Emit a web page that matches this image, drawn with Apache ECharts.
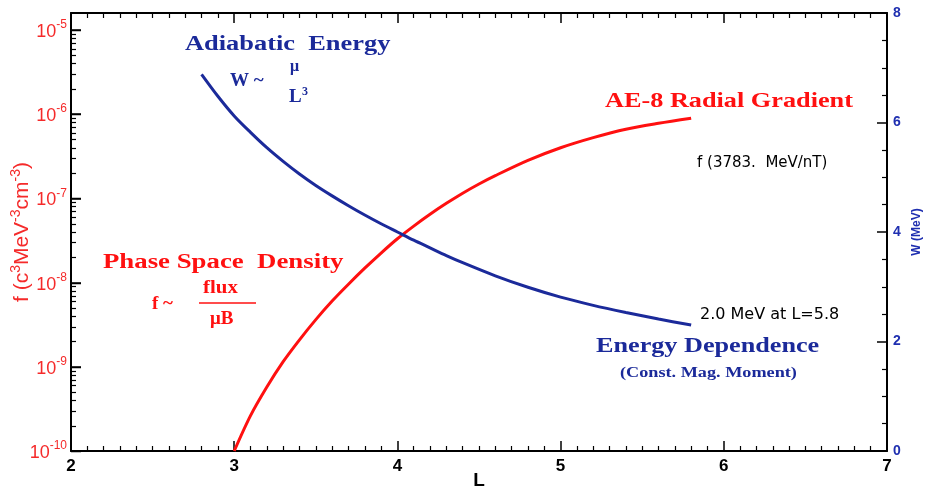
<!DOCTYPE html>
<html><head><meta charset="utf-8">
<script src="https://cdn.jsdelivr.net/npm/echarts@6/dist/echarts.min.js"></script>
<style>html,body{margin:0;padding:0;background:#fff}#c{width:927px;height:488px}</style>
</head><body><div id="c"></div>
<script>
// ---- data ----
const redL = [3.0, 3.1, 3.2, 3.3, 3.4, 3.5, 3.6, 3.7, 3.8, 3.9, 4.0, 4.1, 4.2, 4.3, 4.4, 4.5, 4.6, 4.8, 5.0, 5.2, 5.4, 5.6, 5.8];
const redF = [1.0e-10, 2.63e-10, 5.75e-10, 1.15e-9, 2.09e-9, 3.63e-9, 6.03e-9, 9.55e-9, 1.48e-8, 2.24e-8, 3.31e-8, 4.68e-8, 6.46e-8, 8.71e-8, 1.15e-7, 1.48e-7, 1.86e-7, 2.82e-7, 3.98e-7, 5.25e-7, 6.61e-7, 7.76e-7, 8.91e-7];
const blueL = [2.8, 2.9, 3.0, 3.1, 3.2, 3.3, 3.4, 3.5, 3.6, 3.7, 3.8, 3.9, 4.0, 4.1, 4.2, 4.3, 4.4, 4.6, 4.8, 5.0, 5.2, 5.4, 5.6, 5.8];
const blueW = [6.88, 6.48, 6.12, 5.82, 5.54, 5.29, 5.06, 4.85, 4.66, 4.48, 4.31, 4.15, 4.00, 3.85, 3.71, 3.57, 3.44, 3.20, 2.99, 2.81, 2.66, 2.53, 2.41, 2.30];
const xTicks = [2, 3, 4, 5, 6, 7];
const fDecadeExp = [-10, -9, -8, -7, -6, -5];
const wTicks = [0, 2, 4, 6, 8];

const RED = '#ff1010', LRED = '#f52a2a', BLUE = '#1b2a9a', LBLUE = '#1f2fb0';
const F_MIN = 1e-10, F_MAX = Math.pow(10, -4.8);
const fMinor = [];
for (let d = -10; d <= -5; d++) for (let k = 2; k <= 9; k++) { const v = k * Math.pow(10, d); if (v < F_MAX) fMinor.push(v); }

const chart = echarts.init(document.getElementById('c'));
const serif = '"Liberation Serif","DejaVu Serif",serif';
const sans = '"Liberation Sans","DejaVu Sans",sans-serif';
function txt(x, y, s, size, color, sx) {
  return { type: 'text', x: x, y: y, scaleX: sx || 1, style: { text: s, font: 'bold ' + size + 'px ' + serif, fill: color } };
}
chart.setOption({
  animation: false,
  grid: { left: 71, right: 40, top: 13, bottom: 37, containLabel: false, outerBoundsMode: 'none' },
  xAxis: [
    { type: 'value', position: 'bottom', min: 2, max: 7, interval: 1,
      axisLine: { lineStyle: { color: '#000', width: 2 } },
      axisTick: { show: true, inside: true, length: 10, lineStyle: { color: '#000', width: 1.5 } },
      minorTick: { show: true, splitNumber: 10, length: 5, lineStyle: { color: '#000', width: 1.2 } },
      splitLine: { show: false },
      axisLabel: { color: '#000', fontWeight: 'bold', fontSize: 17, fontFamily: sans, margin: 7 },
      name: 'L', nameLocation: 'middle', nameGap: 20, nameMoveOverlap: false,
      nameTextStyle: { color: '#000', fontWeight: 'bold', fontSize: 19, fontFamily: sans } },
    { type: 'value', position: 'top', min: 2, max: 7, interval: 1,
      axisLine: { lineStyle: { color: '#000', width: 2 } },
      axisTick: { show: true, inside: true, length: 10, lineStyle: { color: '#000', width: 1.5 } },
      minorTick: { show: true, splitNumber: 10, length: 5, lineStyle: { color: '#000', width: 1.2 } },
      splitLine: { show: false }, axisLabel: { show: false } }
  ],
  yAxis: [
    { type: 'log', position: 'left', min: F_MIN, max: F_MAX, logBase: 10,
      axisLine: { show: true, lineStyle: { color: '#000', width: 2 } },
      axisTick: { show: true, inside: true, length: 10, lineStyle: { color: '#000', width: 1.5 } },
      splitLine: { show: false },
      axisLabel: { margin: 4, showMaxLabel: false,
        formatter: v => { const e = Math.round(Math.log10(v)); return Math.abs(Math.log10(v) - e) < 1e-6 ? '{b|10}{s|' + e + '}' : ''; },
        rich: { b: { fontSize: 18, color: LRED, fontFamily: sans, lineHeight: 22, verticalAlign: 'bottom' },
                s: { fontSize: 12, color: LRED, fontFamily: sans, lineHeight: 22, verticalAlign: 'top' } } },
      name: '{m|f (c}{s|3}{m|MeV}{s|-3}{m|cm}{s|-3}{m|)}', nameLocation: 'middle', nameGap: 38, nameRotate: 90, nameMoveOverlap: false,
      nameTextStyle: { rich: { m: { fontSize: 21, color: LRED, fontFamily: sans, lineHeight: 24, verticalAlign: 'bottom' },
                               s: { fontSize: 14, color: LRED, fontFamily: sans, lineHeight: 24, verticalAlign: 'top' } } } },
    { type: 'value', position: 'right', min: 0, max: 8, interval: 2,
      axisLine: { show: true, lineStyle: { color: '#000', width: 2 } },
      axisTick: { show: true, inside: true, length: 10, lineStyle: { color: '#000', width: 1.5 } },
      minorTick: { show: true, splitNumber: 4, length: 5, lineStyle: { color: '#000', width: 1.2 } },
      splitLine: { show: false },
      axisLabel: { color: LBLUE, fontWeight: 'bold', fontSize: 14, fontFamily: sans, margin: 6 },
      name: 'W (MeV)', nameLocation: 'middle', nameGap: 24, nameRotate: 90, nameMoveOverlap: false,
      nameTextStyle: { color: LBLUE, fontWeight: 'bold', fontSize: 12, fontFamily: sans } }
  ],
  series: [
    { type: 'line', name: 'AE-8 Radial Gradient', xAxisIndex: 0, yAxisIndex: 0, smooth: 0.3, showSymbol: false,
      lineStyle: { color: RED, width: 3 }, data: redL.map((l, i) => [l, redF[i]]) },
    { type: 'line', name: 'Energy Dependence', xAxisIndex: 0, yAxisIndex: 1, smooth: 0.3, showSymbol: false,
      lineStyle: { color: BLUE, width: 3 }, data: blueL.map((l, i) => [l, blueW[i]]) }
  ]
});

// left log-axis ticks placed through the axis scale (convertToPixel)
const x0 = chart.convertToPixel({ xAxisIndex: 0 }, 2);
const tickEls = [];
fDecadeExp.forEach(e => {
  const y = Math.round(chart.convertToPixel({ yAxisIndex: 0 }, Math.pow(10, e))) + 0.5;
  tickEls.push({ type: 'line', z: 100, silent: true, shape: { x1: x0, y1: y, x2: x0 + 10, y2: y }, style: { stroke: '#000', lineWidth: 1.5 } });
});
fMinor.forEach(v => {
  const y = Math.round(chart.convertToPixel({ yAxisIndex: 0 }, v)) + 0.5;
  tickEls.push({ type: 'line', z: 100, silent: true, shape: { x1: x0, y1: y, x2: x0 + 5, y2: y }, style: { stroke: '#000', lineWidth: 1.2 } });
});

chart.setOption({
  graphic: [
    txt(185, 35, 'Adiabatic  Energy', 20, BLUE, 1.32),
    txt(230, 72, 'W ~', 19, BLUE),
    txt(290, 59, 'μ', 16, BLUE),
    txt(289, 88, 'L', 19, BLUE),
    txt(302, 86, '3', 12, BLUE),
    txt(103, 253, 'Phase Space  Density', 20, RED, 1.34),
    txt(152, 295, 'f ~', 19, RED),
    txt(203, 279, 'flux', 19, RED, 1.1),
    { type: 'line', shape: { x1: 199, y1: 303, x2: 256, y2: 303 }, style: { stroke: RED, lineWidth: 1.5 } },
    txt(210, 310, 'μB', 19, RED),
    txt(605, 91, 'AE-8 Radial Gradient', 21, RED, 1.25),
    { type: 'text', x: 697, y: 156, style: { text: 'f (3783.  MeV/nT)', font: '15px "DejaVu Sans",sans-serif', fill: '#000' } },
    { type: 'text', x: 700, y: 307, style: { text: '2.0 MeV at L=5.8', font: '16px "DejaVu Sans",sans-serif', fill: '#000' } },
    txt(596, 335, 'Energy Dependence', 22, BLUE, 1.19),
    txt(620, 366, '(Const. Mag. Moment)', 14, BLUE, 1.3)
  ].concat(tickEls)
});
</script></body></html>
